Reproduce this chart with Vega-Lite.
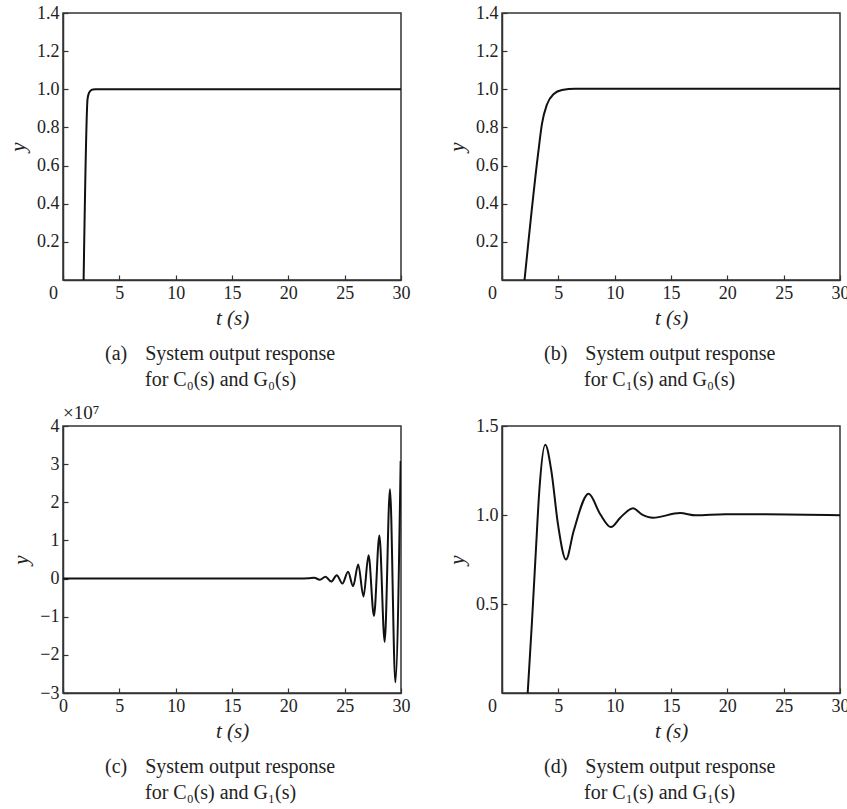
{
  "$schema": "https://vega.github.io/schema/vega-lite/v6.json",
  "background": "white",
  "padding": {"left": 6, "top": 3, "right": 5, "bottom": 5},
  "datasets": {
    "a": [
      {"t": 1.83, "y": 0}, {"t": 2.18, "y": 0.95}, {"t": 2.3, "y": 0.98}, {"t": 2.45, "y": 0.993},
      {"t": 2.65, "y": 0.999}, {"t": 2.9, "y": 1.0}, {"t": 30, "y": 1.0}
    ],
    "b": [
      {"t": 2.0, "y": 0}, {"t": 3.2, "y": 0.66}, {"t": 3.55, "y": 0.82}, {"t": 3.99, "y": 0.92},
      {"t": 4.59, "y": 0.975}, {"t": 5.32, "y": 0.996}, {"t": 6.5, "y": 1.003}, {"t": 30, "y": 1.003}
    ],
    "c": [
      {"t": 0, "y": 0}, {"t": 21.0, "y": 0}, {"t": 21.8, "y": 0.008}, {"t": 22.3, "y": 0.02},
      {"t": 22.8, "y": -0.03}, {"t": 23.3, "y": 0.045}, {"t": 23.8, "y": -0.08}, {"t": 24.3, "y": 0.09},
      {"t": 24.8, "y": -0.13}, {"t": 25.3, "y": 0.18}, {"t": 25.75, "y": -0.2}, {"t": 26.2, "y": 0.37},
      {"t": 26.67, "y": -0.47}, {"t": 27.12, "y": 0.61}, {"t": 27.6, "y": -0.98}, {"t": 28.08, "y": 1.13},
      {"t": 28.55, "y": -1.66}, {"t": 29.02, "y": 2.34}, {"t": 29.5, "y": -2.72}, {"t": 29.97, "y": 3.08}
    ],
    "d": [
      {"t": 2.28, "y": 0}, {"t": 2.66, "y": 0.4}, {"t": 3.02, "y": 0.816}, {"t": 3.31, "y": 1.135},
      {"t": 3.84, "y": 1.395}, {"t": 4.38, "y": 1.248}, {"t": 4.97, "y": 0.947}, {"t": 5.68, "y": 0.75},
      {"t": 6.36, "y": 0.91}, {"t": 7.69, "y": 1.12}, {"t": 8.72, "y": 1.004}, {"t": 9.67, "y": 0.932},
      {"t": 10.5, "y": 0.985}, {"t": 11.63, "y": 1.038}, {"t": 12.4, "y": 1.004}, {"t": 13.4, "y": 0.985},
      {"t": 15.8, "y": 1.011}, {"t": 17.2, "y": 0.998}, {"t": 19.8, "y": 1.004}, {"t": 23.4, "y": 1.004},
      {"t": 30, "y": 0.998}
    ]
  },
  "vconcat": [
    {
      "hconcat": [
        {
          "width": 338, "height": 267,
          "data": {"name": "a"},
          "title": {"text": ["(a)\u2002\u2009\u2009System output response", "\u200b\u2003\u2002\u2002for C₀(s) and G₀(s)"]},
          "mark": {"type": "line", "color": "#111", "strokeWidth": 2, "clip": true, "interpolate": "monotone"},
          "encoding": {
            "x": {"field": "t", "type": "quantitative", "scale": {"domain": [0, 30], "nice": false},
                  "axis": {"title": "t (s)", "values": [0, 5, 10, 15, 20, 25, 30],
                           "labelOffset": {"condition": {"test": "datum.value === 0", "value": -10}, "value": 0}}},
            "y": {"field": "y", "type": "quantitative", "scale": {"domain": [0, 1.4], "nice": false},
                  "axis": {"title": "y", "values": [0.2, 0.4, 0.6, 0.8, 1.0, 1.2, 1.4], "format": ".1f"}}
          }
        },
        {
          "width": 338, "height": 267,
          "data": {"name": "b"},
          "title": {"text": ["(b)\u2002\u2009\u2009System output response", "\u200b\u2003\u2002\u2002for C₁(s) and G₀(s)"]},
          "mark": {"type": "line", "color": "#111", "strokeWidth": 2, "clip": true, "interpolate": "monotone"},
          "encoding": {
            "x": {"field": "t", "type": "quantitative", "scale": {"domain": [0, 30], "nice": false},
                  "axis": {"title": "t (s)", "values": [0, 5, 10, 15, 20, 25, 30],
                           "labelOffset": {"condition": {"test": "datum.value === 0", "value": -10}, "value": 0}}},
            "y": {"field": "y", "type": "quantitative", "scale": {"domain": [0, 1.4], "nice": false},
                  "axis": {"title": "y", "values": [0.2, 0.4, 0.6, 0.8, 1.0, 1.2, 1.4], "format": ".1f"}}
          }
        }
      ],
      "spacing": 34
    },
    {
      "hconcat": [
        {
          "width": 338, "height": 267,
          "title": {"text": ["(c)\u2002\u2009\u2009System output response", "\u200b\u2003\u2002\u2002for C₀(s) and G₁(s)"]},
          "encoding": {
            "x": {"field": "t", "type": "quantitative", "scale": {"domain": [0, 30], "nice": false},
                  "axis": {"title": "t (s)", "values": [0, 5, 10, 15, 20, 25, 30]}},
            "y": {"field": "y", "type": "quantitative", "scale": {"domain": [-3, 4], "nice": false},
                  "axis": {"title": "y", "values": [-3, -2, -1, 0, 1, 2, 3, 4], "format": "d", "labelOverlap": false}}
          },
          "layer": [
            {
              "data": {"name": "c"},
              "mark": {"type": "line", "color": "#111", "strokeWidth": 2, "clip": true, "interpolate": "monotone"}
            },
            {
              "data": {"values": [{"t": 0, "y": 4, "label": "×10⁷"}]},
              "mark": {"type": "text", "align": "left", "baseline": "bottom", "dy": -3, "font": "Liberation Serif", "fontSize": 19, "color": "#222"},
              "encoding": {"text": {"field": "label"}}
            }
          ]
        },
        {
          "width": 338, "height": 267,
          "data": {"name": "d"},
          "title": {"text": ["(d)\u2002\u2009\u2009System output response", "\u200b\u2003\u2002\u2002for C₁(s) and G₁(s)"]},
          "mark": {"type": "line", "color": "#111", "strokeWidth": 2, "clip": true, "interpolate": "monotone"},
          "encoding": {
            "x": {"field": "t", "type": "quantitative", "scale": {"domain": [0, 30], "nice": false},
                  "axis": {"title": "t (s)", "values": [0, 5, 10, 15, 20, 25, 30],
                           "labelOffset": {"condition": {"test": "datum.value === 0", "value": -10}, "value": 0}}},
            "y": {"field": "y", "type": "quantitative", "scale": {"domain": [0, 1.5], "nice": false},
                  "axis": {"title": "y", "values": [0.5, 1.0, 1.5], "format": ".1f"}}
          }
        }
      ],
      "spacing": 34
    }
  ],
  "spacing": 12,
  "config": {
    "font": "Liberation Serif",
    "view": {"stroke": "#333", "strokeWidth": 1.5},
    "axis": {
      "domainColor": "#333", "domainWidth": 1.5, "tickColor": "#333", "tickWidth": 1.2, "tickSize": -5,
      "labelFont": "Liberation Serif", "labelFontSize": 18, "labelColor": "#222", "labelPadding": 9,
      "labelFlush": false, "labelOverlap": false, "grid": false,
      "titleFont": "Liberation Serif", "titleFontSize": 21, "titleFontWeight": "normal", "titleColor": "#222", "titleFontStyle": "italic"
    },
    "axisX": {"titlePadding": 5},
    "axisY": {"titlePadding": 8},
    "title": {"orient": "bottom", "anchor": "start", "frame": "group", "dx": 42, "align": "left", "font": "Liberation Serif",
              "fontSize": 20, "fontWeight": "normal", "color": "#222", "lineHeight": 26, "offset": 16}
  }
}
